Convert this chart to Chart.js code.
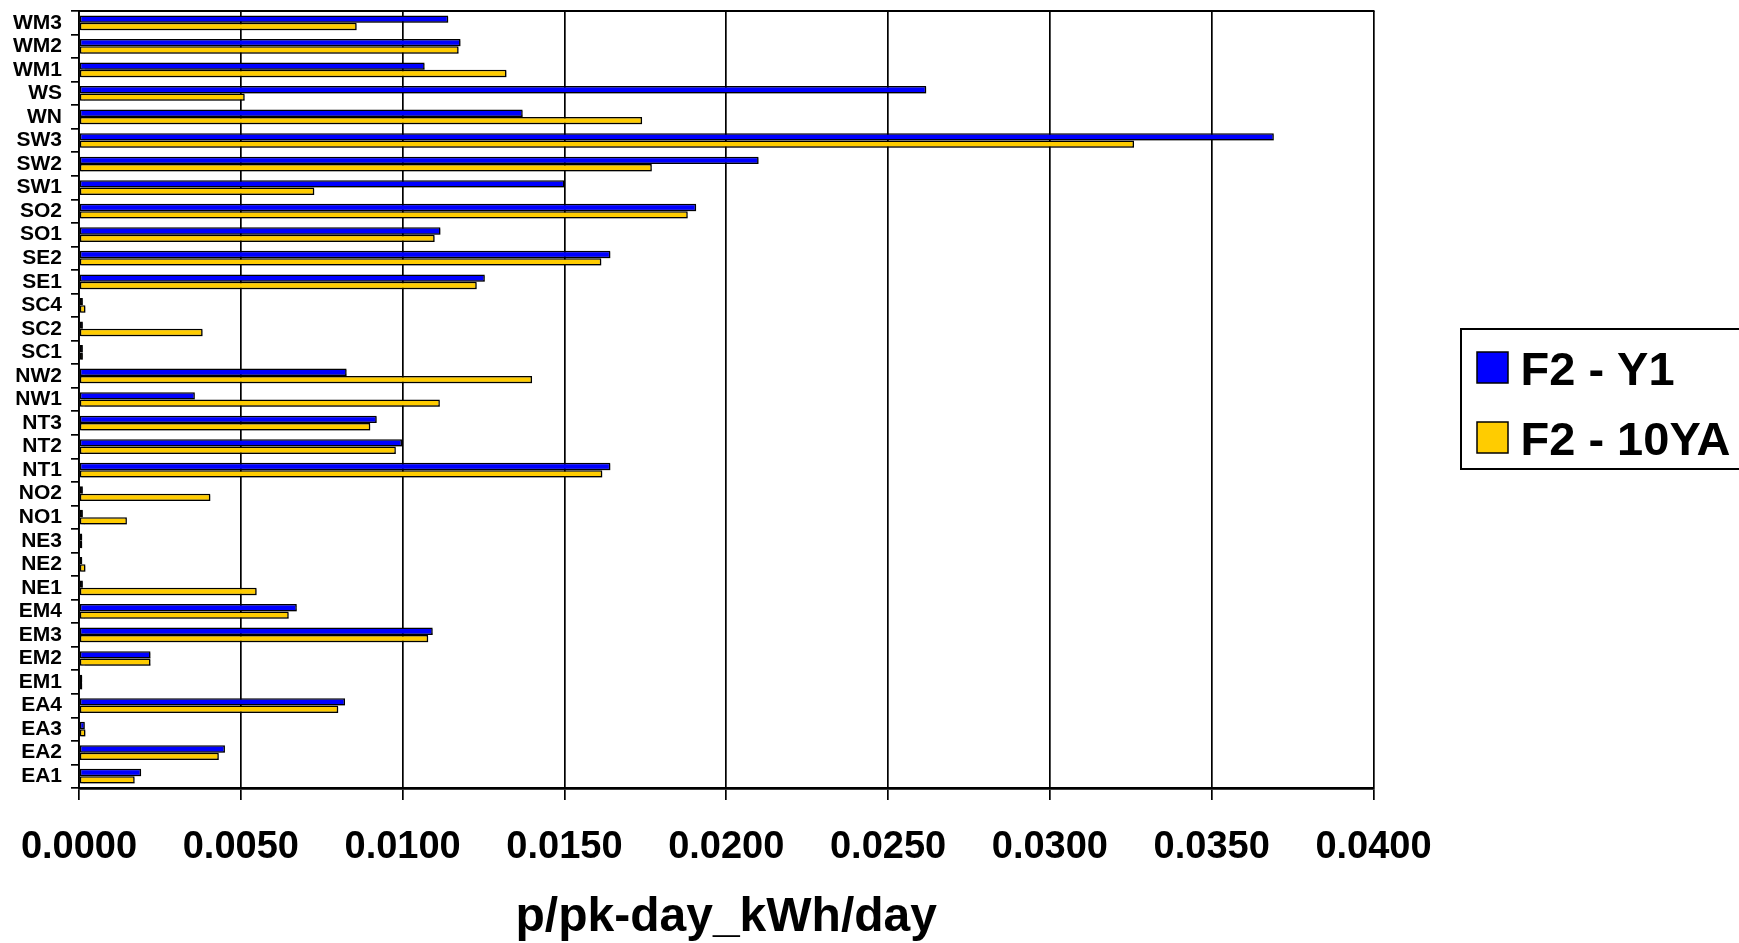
<!DOCTYPE html>
<html>
<head>
<meta charset="utf-8">
<title>p/pk-day_kWh/day</title>
<script src="https://cdn.jsdelivr.net/npm/chart.js@4/dist/chart.umd.min.js"></script>
<style>
  html, body { margin: 0; padding: 0; background: #ffffff; }
  canvas { display: block; }
</style>
</head>
<body>
<canvas id="chart" width="1739" height="943"></canvas>
<script>
// Zones, listed top to bottom
const categories = [
  'WM3', 'WM2', 'WM1', 'WS', 'WN', 'SW3', 'SW2', 'SW1', 'SO2', 'SO1', 'SE2',
  'SE1', 'SC4', 'SC2', 'SC1', 'NW2', 'NW1', 'NT3', 'NT2', 'NT1', 'NO2', 'NO1',
  'NE3', 'NE2', 'NE1', 'EM4', 'EM3', 'EM2', 'EM1', 'EA4', 'EA3', 'EA2', 'EA1'
];

// F2 - Y1 (p/pk-day_kWh/day)
const valuesY1 = [
  0.01141, 0.01179, 0.01068, 0.02618, 0.01371, 0.03692, 0.02100, 0.01500, 0.01907, 0.01117, 0.01642,
  0.01254, 0.00012, 0.00012, 0.00012, 0.00827, 0.00358, 0.00920, 0.00998, 0.01642, 0.00012, 0.00012,
  0.00010, 0.00010, 0.00012, 0.00673, 0.01093, 0.00221, 0.00010, 0.00822, 0.00018, 0.00451, 0.00192
];

// F2 - 10YA (p/pk-day_kWh/day)
const values10YA = [
  0.00858, 0.01173, 0.01321, 0.00512, 0.01740, 0.03260, 0.01770, 0.00727, 0.01881, 0.01099, 0.01614,
  0.01229, 0.00020, 0.00382, 0.00012, 0.01400, 0.01115, 0.00900, 0.00979, 0.01617, 0.00406, 0.00148,
  0.00010, 0.00020, 0.00549, 0.00648, 0.01079, 0.00221, 0.00010, 0.00801, 0.00020, 0.00432, 0.00172
];

const seriesNames = ['F2 - Y1', 'F2 - 10YA'];

// Value axis range and tick spacing
const axisMin = 0;
const axisMax = 0.04;
const axisStep = 0.005;
const tickDecimals = 4;

const FONT = '"Liberation Sans", Arial, Helvetica, sans-serif';

// Fixed scale sizes; label overhang must not shrink the plot area
function fixScale(size) {
  return function (scale) {
    if (scale.isHorizontal()) scale.height = size; else scale.width = size;
    scale.paddingTop = 0;
    scale.paddingBottom = 0;
    scale.paddingLeft = 0;
    scale.paddingRight = 0;
  };
}

// Thin outline along the top of the plot area
const plotFrame = {
  id: 'plotFrame',
  afterDraw(chart) {
    const { ctx, chartArea } = chart;
    ctx.save();
    ctx.strokeStyle = '#000';
    ctx.lineWidth = 2;
    ctx.beginPath();
    ctx.moveTo(chartArea.left - 1, chartArea.top);
    ctx.lineTo(chartArea.right + 1, chartArea.top);
    ctx.stroke();
    ctx.restore();
  }
};

// Soft drop shadow under the bars
const barShadow = {
  id: 'barShadow',
  beforeDatasetsDraw(chart) {
    const ctx = chart.ctx;
    ctx.save();
    ctx.shadowColor = 'rgba(0,0,0,0.35)';
    ctx.shadowOffsetX = 1.5;
    ctx.shadowOffsetY = 1.5;
    ctx.shadowBlur = 1;
  },
  afterDatasetsDraw(chart) {
    chart.ctx.restore();
  }
};

// Boxed legend to the right of the plot
const boxLegend = {
  id: 'boxLegend',
  afterDraw(chart) {
    const ctx = chart.ctx;
    const boxLeft = 1461, boxTop = 329, boxBottom = 469, boxRight = 1800;
    ctx.save();
    ctx.fillStyle = '#fff';
    ctx.fillRect(boxLeft, boxTop, boxRight - boxLeft, boxBottom - boxTop);
    ctx.strokeStyle = '#000';
    ctx.lineWidth = 2;
    ctx.strokeRect(boxLeft, boxTop, boxRight - boxLeft, boxBottom - boxTop);
    ctx.font = 'bold 47px ' + FONT;
    ctx.textAlign = 'left';
    ctx.textBaseline = 'alphabetic';
    chart.data.datasets.forEach((ds, i) => {
      const baseline = 385 + i * 70;
      const sq = 31;
      const sy = baseline - 33;
      ctx.fillStyle = ds.backgroundColor;
      ctx.fillRect(1477, sy, sq, sq);
      ctx.lineWidth = 1.5;
      ctx.strokeStyle = '#000';
      ctx.strokeRect(1477, sy, sq, sq);
      ctx.fillStyle = '#000';
      ctx.fillText(ds.label, 1520.5, baseline);
    });
    ctx.restore();
  }
};

new Chart(document.getElementById('chart'), {
  type: 'bar',
  data: {
    labels: categories,
    datasets: [
      {
        label: seriesNames[0],
        data: valuesY1,
        backgroundColor: '#0000FF',
        borderColor: '#000000',
        borderWidth: 1.5,
        borderSkipped: false,
        categoryPercentage: 0.625,
        barPercentage: 1.0
      },
      {
        label: seriesNames[1],
        data: values10YA,
        backgroundColor: '#FFCC00',
        borderColor: '#000000',
        borderWidth: 1.5,
        borderSkipped: false,
        categoryPercentage: 0.625,
        barPercentage: 1.0
      }
    ]
  },
  options: {
    indexAxis: 'y',
    responsive: false,
    animation: false,
    devicePixelRatio: 1,
    layout: { padding: { top: 11, right: 365.5, bottom: 0, left: 0 } },
    plugins: {
      legend: { display: false },
      tooltip: { enabled: false },
      title: { display: false }
    },
    scales: {
      x: {
        type: 'linear',
        position: 'bottom',
        min: axisMin,
        max: axisMax,
        afterFit: fixScale(155),
        ticks: {
          stepSize: axisStep,
          autoSkip: false,
          maxRotation: 0,
          padding: 25,
          color: '#000',
          font: { family: FONT, size: 38, weight: 'bold' },
          callback: (v) => Number(v).toFixed(tickDecimals)
        },
        grid: {
          color: '#000',
          lineWidth: 1.7,
          drawTicks: true,
          tickLength: 12
        },
        border: { display: true, color: '#000', width: 2.7 },
        title: {
          display: true,
          text: 'p/pk-day_kWh/day',
          color: '#000',
          font: { family: FONT, size: 48, weight: 'bold', lineHeight: 1 },
          padding: { top: 0, bottom: 1 }
        }
      },
      y: {
        type: 'category',
        position: 'left',
        offset: true,
        afterFit: fixScale(79),
        ticks: {
          autoSkip: false,
          padding: 9,
          color: '#000',
          font: { family: FONT, size: 21, weight: 'bold' }
        },
        grid: {
          offset: true,
          drawOnChartArea: false,
          drawTicks: true,
          tickLength: 8,
          color: '#000',
          lineWidth: 1.7
        },
        border: { display: true, color: '#000', width: 1.8 }
      }
    }
  },
  plugins: [barShadow, plotFrame, boxLegend]
});
</script>
</body>
</html>
